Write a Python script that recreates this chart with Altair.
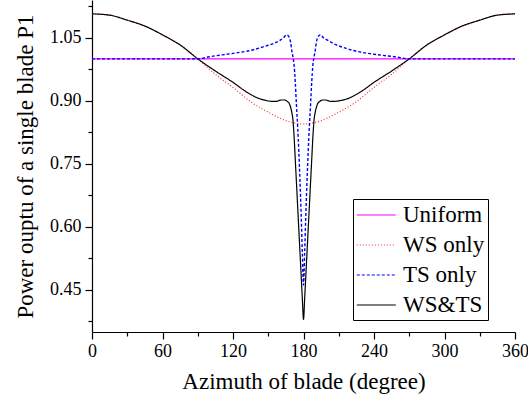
import altair as alt
import pandas as pd

series_names = ["Uniform", "WS only", "\u00a0TS only", "WS&TS"]
series_colors = ["#ff00ff", "#ff3030", "#0000ff", "#000000"]
series_dashes = [[1, 0], [1, 2], [3, 2], [1, 0]]

uniform_deg = [0, 360]
uniform_val = [1.0, 1.0]

ws_deg = [0, 15, 30, 45, 60, 75, 90, 105, 120, 135, 150, 165, 180,
          195, 210, 225, 240, 255, 270, 285, 300, 315, 330, 345, 360]
ws_val = [1.107, 1.104, 1.092, 1.078, 1.057, 1.033, 1.000, 0.963, 0.932, 0.898, 0.873, 0.853, 0.845,
          0.853, 0.873, 0.898, 0.932, 0.963, 1.000, 1.033, 1.057, 1.078, 1.092, 1.104, 1.107]

ts_deg = [0, 90, 100, 120, 135, 145, 155, 160, 163, 165.5, 167, 168, 169, 170, 171, 172, 173, 174,
          175, 176, 177, 178, 179, 180,
          181, 182, 183, 184, 185, 186, 187, 188, 189, 190, 191, 192, 193, 194.5, 197, 200, 205,
          215, 225, 240, 260, 270, 360]
ts_val = [1.000, 1.000, 1.005, 1.013, 1.020, 1.028, 1.037, 1.044, 1.050, 1.057, 1.055, 1.050, 1.040,
          1.020, 1.005, 0.985, 0.945, 0.890, 0.840, 0.780, 0.710, 0.630, 0.540, 0.462,
          0.540, 0.630, 0.710, 0.780, 0.840, 0.890, 0.945, 0.985, 1.005, 1.020, 1.040, 1.050, 1.055,
          1.057, 1.050, 1.045, 1.037, 1.026, 1.018, 1.011, 1.004, 1.000, 1.000]

both_deg = [0, 15, 30, 45, 60, 75, 90, 105, 120, 130, 140, 148, 153, 157, 161, 164, 166, 168, 169,
            170, 171, 172, 173, 174, 175, 176, 177, 178, 179, 180,
            181, 182, 183, 184, 185, 186, 187, 188, 189, 190, 191, 192, 194, 196, 199, 203, 207,
            212, 220, 230, 240, 255, 270, 285, 300, 315, 330, 345, 360]
both_val = [1.107, 1.104, 1.092, 1.078, 1.057, 1.033, 1.000, 0.971, 0.944, 0.924, 0.908, 0.901, 0.899,
            0.899, 0.902, 0.902, 0.899, 0.893, 0.885, 0.873, 0.855, 0.815, 0.760, 0.705, 0.650,
            0.595, 0.540, 0.485, 0.430, 0.380,
            0.430, 0.485, 0.540, 0.595, 0.650, 0.705, 0.760, 0.815, 0.855, 0.873, 0.885, 0.893, 0.899,
            0.902, 0.902, 0.899, 0.899, 0.901, 0.908, 0.924, 0.944, 0.971, 1.000, 1.033, 1.057,
            1.078, 1.092, 1.104, 1.107]

x_ticks = list(range(0, 361, 30))
y_ticks = [0.375, 0.45, 0.525, 0.6, 0.675, 0.75, 0.825, 0.9, 0.975, 1.05, 1.125]

frames = []
for name, d, v in [(series_names[0], uniform_deg, uniform_val),
                   (series_names[1], ws_deg, ws_val),
                   (series_names[2], ts_deg, ts_val),
                   (series_names[3], both_deg, both_val)]:
    frames.append(pd.DataFrame({"deg": d, "val": v, "series": name}))

FONT = "Liberation Serif"

x_enc = alt.X("deg:Q", scale=alt.Scale(domain=[0, 360], nice=False, zero=False),
              axis=alt.Axis(values=x_ticks, title="Azimuth of blade (degree)",
                            labelExpr="datum.value % 60 == 0 ? datum.label : ''",
                            tickSize={"condition": {"test": "datum.value % 60 == 0", "value": 7}, "value": 4},
                            labelFlush=False, labelOverlap=False, grid=False,
                            labelFontSize=18, titleFontSize=23, labelPadding=3, titlePadding=10))
y_enc = alt.Y("val:Q", scale=alt.Scale(domain=[0.35, 1.14], nice=False, zero=False),
              axis=alt.Axis(values=y_ticks, title="Power ouptu of a single blade P1",
                            labelExpr="round(datum.value*1000) % 150 == 0 ? format(datum.value, '.2f') : ''",
                            tickSize={"condition": {"test": "round(datum.value*1000) % 150 == 0", "value": 7}, "value": 4},
                            labelFlush=False, labelOverlap=False, grid=False,
                            labelFontSize=18, titleFontSize=23, labelPadding=4, titlePadding=12))
color_enc = alt.Color("series:N", scale=alt.Scale(domain=series_names, range=series_colors),
                      legend=alt.Legend(orient="none", legendX=261, legendY=199, title=None,
                                        symbolType="M-1,0H2.2", symbolSize=594, symbolStrokeWidth=1.2,
                                        labelFontSize=23, labelFont=FONT, strokeColor="black",
                                        fillColor="white", padding=3, rowPadding=5, labelOffset=21))
dash_enc = alt.StrokeDash("series:N", scale=alt.Scale(domain=series_names, range=series_dashes), legend=None)

layers = []
for i in [0, 1, 3, 2]:
    sw = 1.4 if i in (0, 2) else 1.2
    layers.append(
        alt.Chart(frames[i]).mark_line(interpolate="monotone", strokeWidth=sw)
        .encode(x=x_enc, y=y_enc, color=color_enc, strokeDash=dash_enc)
    )

chart = alt.layer(*layers).properties(
    width=423, height=332,
    background="white",
    autosize=alt.AutoSizeParams(type="none"),
    padding={"left": 92, "top": 0, "right": 13, "bottom": 66},
).configure_view(stroke=None).configure_axis(
    labelFont=FONT, titleFont=FONT, titleFontWeight="normal", labelColor="black", titleColor="black",
    domainColor="black", tickColor="black", domainWidth=1.2, tickWidth=1.2
)

chart.save("out.html", embed_options={"renderer": "svg", "actions": False})
